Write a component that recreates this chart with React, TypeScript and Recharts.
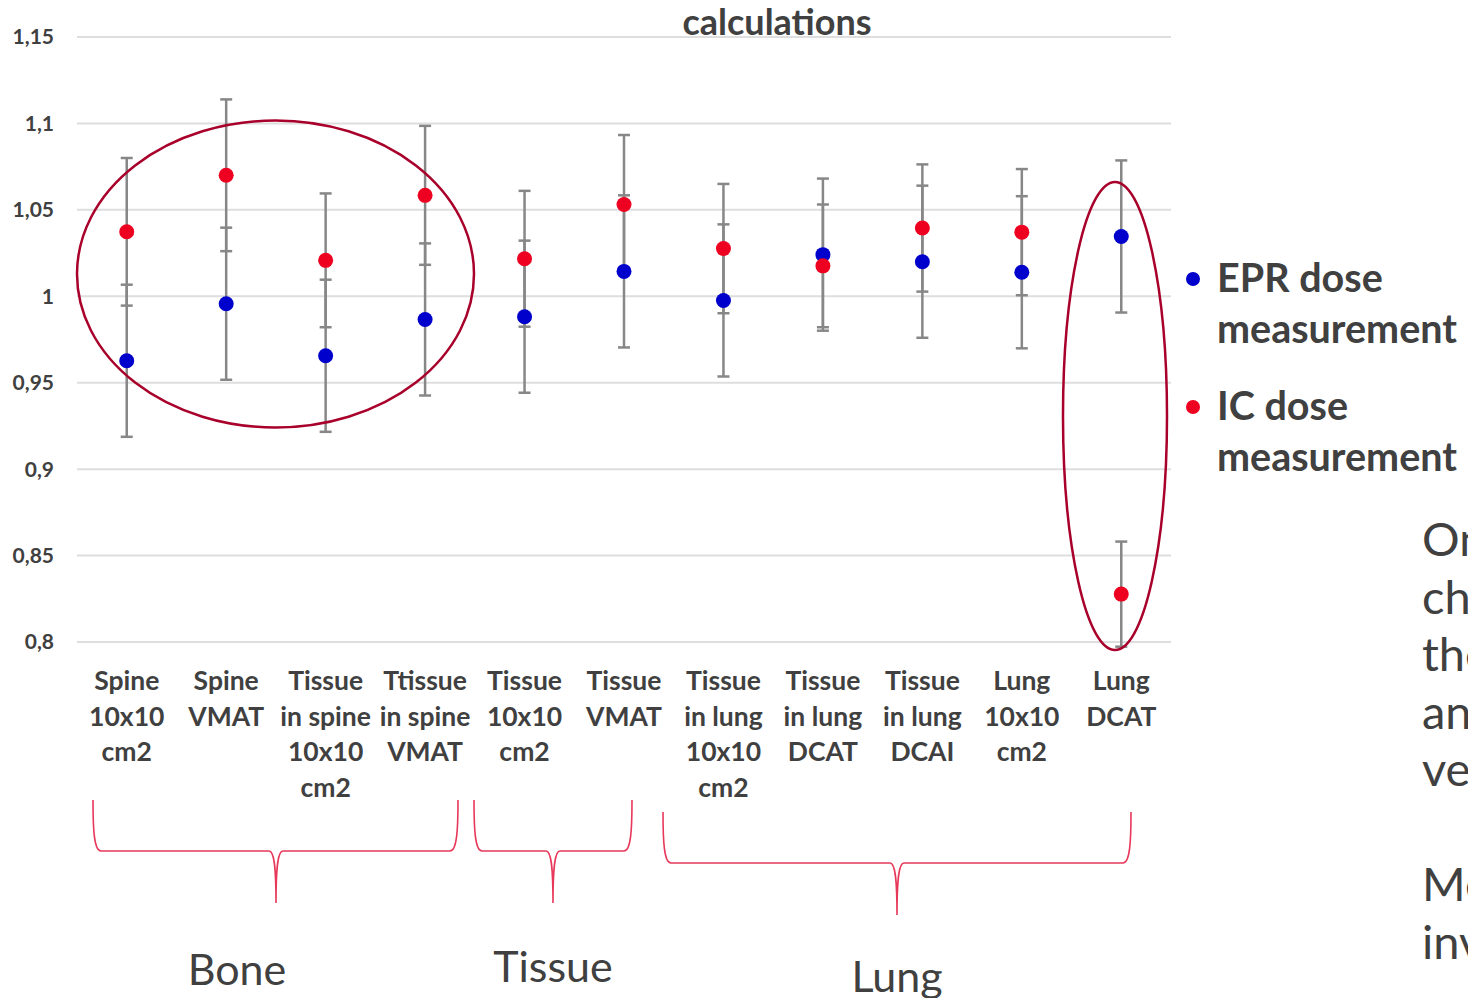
import React from 'react';
import { ScatterChart, Scatter, XAxis, YAxis, CartesianGrid, ErrorBar, Legend } from 'recharts';

const categories: string[][] = [
  ['Spine', '10x10', 'cm2'],
  ['Spine', 'VMAT'],
  ['Tissue', 'in spine', '10x10', 'cm2'],
  ['Ttissue', 'in spine', 'VMAT'],
  ['Tissue', '10x10', 'cm2'],
  ['Tissue', 'VMAT'],
  ['Tissue', 'in lung', '10x10', 'cm2'],
  ['Tissue', 'in lung', 'DCAT'],
  ['Tissue', 'in lung', 'DCAI'],
  ['Lung', '10x10', 'cm2'],
  ['Lung', 'DCAT'],
];

const eprValues = [0.9627, 0.9957, 0.9656, 0.9866, 0.9882, 1.0144, 0.9976, 1.0241, 1.02, 1.0139, 1.0346];
const eprErrors = [0.044, 0.044, 0.044, 0.044, 0.044, 0.044, 0.044, 0.044, 0.044, 0.044, 0.044];
const icValues = [1.0373, 1.07, 1.0208, 1.0584, 1.0217, 1.0531, 1.0276, 1.0176, 1.0395, 1.0371, 0.8277];
const icErrors = [0.0427, 0.0439, 0.0387, 0.0402, 0.0393, 0.0402, 0.0374, 0.0355, 0.0368, 0.0365, 0.0304];

const yTicks = [0.8, 0.85, 0.9, 0.95, 1, 1.05, 1.1, 1.15];
const seriesNames = ['EPR dose measurement', 'IC dose measurement'];
const seriesColors = ['#0000CC', '#EE0020'];
const groupLabels = ['Bone', 'Tissue', 'Lung'];
const titleText = 'calculations';
const sideLines = ['On', 'ch', 'the', 'an', 've', '', 'Me', 'inv'];

const xTicks = categories.map((_, i) => i);
const eprData = categories.map((_, i) => ({ x: i, y: eprValues[i], err: eprErrors[i] }));
const icData = categories.map((_, i) => ({ x: i, y: icValues[i], err: icErrors[i] }));

const FONT = 'Lato, "Open Sans", sans-serif';
const TEXT = '#404040';

const XTick = (props: any) => {
  const { x, y, payload } = props;
  const lines = categories[payload.value] || [];
  return (
    <text x={x} y={y} textAnchor="middle" fontFamily={FONT} fontWeight={700} fontSize={26.5} fill={TEXT}>
      {lines.map((l, i) => (
        <tspan key={i} x={x} y={y + 48 + i * 35.5}>
          {l}
        </tspan>
      ))}
    </text>
  );
};

const makeDot = (color: string) => (p: any) => <circle cx={p.cx} cy={p.cy} r={7.5} fill={color} />;
const noDot = () => <g />;

const LegendContent = () => (
  <svg width={298} height={240} style={{ display: 'block' }}>
    {seriesNames.map((name, i) => {
      const words = name.split(' ');
      const first = words.slice(0, words.length - 1).join(' ');
      const last = words[words.length - 1];
      const baseY = 52 + i * 128;
      return (
        <g key={name}>
          <circle cx={23} cy={baseY - 13} r={7} fill={seriesColors[i]} />
          <text x={47} y={baseY} fontFamily={FONT} fontWeight={700} fontSize={39.5} fill={TEXT}>
            {first}
          </text>
          <text x={47} y={baseY + 51} fontFamily={FONT} fontWeight={700} fontSize={39.5} fill={TEXT}>
            {last}
          </text>
        </g>
      );
    })}
  </svg>
);

const bracePath = (x0: number, x1: number, tip: number, top: number, h: number, bottom: number) =>
  `M ${x0} ${top} C ${x0} ${h - 22} ${x0 + 1} ${h} ${x0 + 8} ${h} L ${tip - 7} ${h} C ${tip - 2} ${h} ${tip} ${h + 14} ${tip} ${bottom} ` +
  `M ${tip} ${bottom} C ${tip} ${h + 14} ${tip + 2} ${h} ${tip + 7} ${h} L ${x1 - 8} ${h} C ${x1 - 1} ${h} ${x1} ${h - 22} ${x1} ${top}`;

export default function App() {
  return (
    <div style={{ position: 'absolute', left: 0, top: 0, width: 1468, height: 998, overflow: 'hidden', background: '#fff' }}>
      <ScatterChart
        width={1468}
        height={998}
        margin={{ top: 37, right: 297, left: 0, bottom: 326 }}
        style={{ fontFamily: FONT }}
      >
        <CartesianGrid vertical={false} stroke="#DEDEDE" strokeWidth={2} />
        <XAxis
          type="number"
          dataKey="x"
          domain={[-0.5, 10.5]}
          ticks={xTicks}
          interval={0}
          tick={<XTick />}
          tickLine={false}
          axisLine={false}
          tickSize={0}
          tickMargin={0}
          height={30}
        />
        <YAxis
          type="number"
          dataKey="y"
          domain={[0.8, 1.15]}
          ticks={yTicks}
          allowDataOverflow
          width={77}
          tickLine={false}
          axisLine={false}
          tickSize={0}
          tickMargin={23}
          tickFormatter={(v: number) => String(v).replace('.', ',')}
          tick={{ fontFamily: FONT, fontWeight: 700, fontSize: 21, fill: TEXT }}
        />
        <Scatter name="epr-err" data={eprData} shape={noDot} isAnimationActive={false} legendType="none">
          <ErrorBar dataKey="err" direction="y" width={6} stroke="#878787" strokeWidth={2.5} isAnimationActive={false} />
        </Scatter>
        <Scatter name="ic-err" data={icData} shape={noDot} isAnimationActive={false} legendType="none">
          <ErrorBar dataKey="err" direction="y" width={6} stroke="#878787" strokeWidth={2.5} isAnimationActive={false} />
        </Scatter>
        <Scatter name={seriesNames[0]} data={eprData} shape={makeDot(seriesColors[0])} fill={seriesColors[0]} isAnimationActive={false} />
        <Scatter name={seriesNames[1]} data={icData} shape={makeDot(seriesColors[1])} fill={seriesColors[1]} isAnimationActive={false} />
        <Legend
          layout="horizontal"
          align="center"
          verticalAlign="middle"
          content={<LegendContent />}
          wrapperStyle={{ position: 'absolute', left: 1170, top: 240, width: 298, height: 240 }}
        />
      </ScatterChart>
      <svg
        width={1468}
        height={998}
        style={{ position: 'absolute', left: 0, top: 0, pointerEvents: 'none' }}
      >
        <text x={777} y={35} textAnchor="middle" fontFamily={FONT} fontWeight={700} fontSize={36} fill={TEXT}>
          {titleText}
        </text>
        <ellipse cx={275.5} cy={274} rx={198.5} ry={153.5} fill="none" stroke="#A8002A" strokeWidth={2.5} />
        <ellipse cx={1115} cy={416} rx={52} ry={234} fill="none" stroke="#A8002A" strokeWidth={2.5} />
        <path d={bracePath(93, 458, 276, 800, 851, 903)} fill="none" stroke="#E8385A" strokeWidth={1.6} />
        <path d={bracePath(474, 632, 553, 800, 851, 903)} fill="none" stroke="#E8385A" strokeWidth={1.6} />
        <path d={bracePath(663, 1131, 897, 812, 863, 915)} fill="none" stroke="#E8385A" strokeWidth={1.6} />
        <text x={237} y={985} textAnchor="middle" fontFamily={FONT} fontSize={43} fill={TEXT}>
          {groupLabels[0]}
        </text>
        <text x={553} y={982} textAnchor="middle" fontFamily={FONT} fontSize={43} fill={TEXT}>
          {groupLabels[1]}
        </text>
        <text x={897} y={992} textAnchor="middle" fontFamily={FONT} fontSize={43} fill={TEXT}>
          {groupLabels[2]}
        </text>
        {sideLines.map((l, i) => (
          <text key={i} x={1422} y={556 + i * 57.5} fontFamily={FONT} fontSize={47} fill={TEXT}>
            {l}
          </text>
        ))}
      </svg>
    </div>
  );
}
